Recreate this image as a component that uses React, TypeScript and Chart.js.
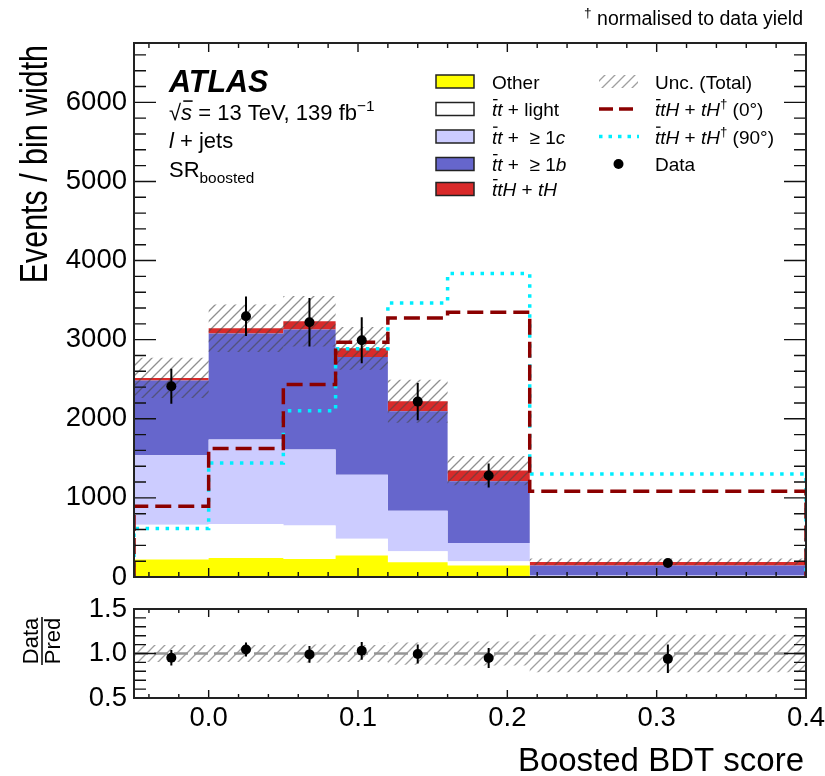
import React, { useEffect, useRef } from 'react';
import { Chart, registerables } from 'chart.js';
Chart.register(...registerables);

const FONT = "'Liberation Sans', Arial, Helvetica, sans-serif";

// ---- data ----
const binEdges = [-0.05, 0.0, 0.05, 0.085, 0.12, 0.16, 0.215, 0.4];
const otherVals = [220, 241, 229, 271, 186, 144, 4];
const ttLightVals = [442, 430, 421, 211, 139, 55, 4];
const tt1cVals = [877, 1066, 961, 809, 514, 232, 10];
const tt1bVals = [944, 1340, 1517, 1491, 1256, 779, 126];
const ttHVals = [34, 68, 105, 109, 126, 135, 47];
const uncTotal = [253, 300, 318, 270, 272, 185, 42];
const signal0Vals = [894, 1623, 2432, 2968, 3275, 3346, 1083];
const signal90Vals = [612, 1442, 2100, 2884, 3465, 3836, 1303];
const dataVals = [2411, 3296, 3220, 2993, 2217, 1282, 178];
const dataErr = [220, 250, 306, 290, 236, 152, 30];
const ratioVals = [0.952, 1.045, 0.99, 1.03, 0.995, 0.95, 0.94];
const ratioErr = [0.087, 0.08, 0.093, 0.1, 0.106, 0.113, 0.16];
const ratioUnc = [0.095, 0.095, 0.1, 0.095, 0.125, 0.135, 0.21];

const mainYTickLabels = [0, 1000, 2000, 3000, 4000, 5000, 6000];
const xTickLabels = [0.0, 0.1, 0.2, 0.3, 0.4];
const ratioYTickLabels = [0.5, 1.0, 1.5];

const X_MIN = -0.05, X_MAX = 0.4, Y_MAX = 6750;

// ---- helpers ----
type Pt = { x: number; y: number };
function stepPts(vals: number[]): Pt[] {
  const pts = vals.map((v, i) => ({ x: binEdges[i], y: v }));
  pts.push({ x: binEdges[binEdges.length - 1], y: vals[vals.length - 1] });
  return pts;
}
function closedStepPts(vals: number[]): Pt[] {
  return [{ x: binEdges[0], y: 0 }, ...stepPts(vals), { x: binEdges[binEdges.length - 1], y: 0 }];
}
function addArr(a: number[], b: number[]) { return a.map((v, i) => v + b[i]); }
function centers(): number[] { return binEdges.slice(0, -1).map((e, i) => (e + binEdges[i + 1]) / 2); }

function makeHatch(color: string, spacing = 10, lw = 1.3): CanvasPattern | string {
  const c = document.createElement('canvas');
  c.width = spacing; c.height = spacing;
  const g = c.getContext('2d');
  if (!g) return color;
  g.strokeStyle = color; g.lineWidth = lw;
  g.beginPath();
  g.moveTo(-1, spacing + 1); g.lineTo(spacing + 1, -1);
  g.moveTo(-spacing / 2 - 1, spacing / 2 + 1); g.lineTo(spacing / 2 + 1, -spacing / 2 - 1);
  g.moveTo(spacing / 2 - 1, spacing * 1.5 + 1); g.lineTo(spacing * 1.5 + 1, spacing / 2 - 1);
  g.stroke();
  const p = g.createPattern(c, 'repeat');
  return p || color;
}

type Seg = { t: string; it?: boolean; b?: boolean; sup?: boolean; sub?: boolean; bar?: boolean };
function drawRich(ctx: CanvasRenderingContext2D, segs: Seg[], x: number, y: number, size: number, align: 'left' | 'right' = 'left') {
  const fontOf = (s: Seg) => {
    const fs = s.sup || s.sub ? size * 0.7 : size;
    return `${s.it ? 'italic ' : ''}${s.b ? 'bold ' : ''}${fs}px ${FONT}`;
  };
  let total = 0;
  for (const s of segs) { ctx.font = fontOf(s); total += ctx.measureText(s.t).width; }
  let cx = align === 'right' ? x - total : x;
  ctx.textAlign = 'left';
  ctx.textBaseline = 'alphabetic';
  for (const s of segs) {
    ctx.font = fontOf(s);
    const dy = s.sup ? -size * 0.4 : s.sub ? size * 0.25 : 0;
    ctx.fillText(s.t, cx, y + dy);
    const w = ctx.measureText(s.t).width;
    if (s.bar) {
      ctx.save();
      ctx.lineWidth = Math.max(1, size * 0.07);
      ctx.strokeStyle = ctx.fillStyle as string;
      ctx.beginPath();
      const yy = y - size * 0.86;
      ctx.moveTo(cx + w * 0.2, yy);
      ctx.lineTo(cx + w * 1.05, yy);
      ctx.stroke();
      ctx.restore();
    }
    cx += w;
  }
}

function frameTicksPlugin(cfg: {
  xMajor: number[]; xMinor: number[]; yMajor: number[]; yMinor: number[];
  xMaj: number; xMin: number; yMaj: number; yMin: number;
}) {
  return {
    id: 'frameTicks',
    afterDraw(chart: any) {
      const { ctx, chartArea: a, scales } = chart;
      const xs = scales.x, ys = scales.y;
      ctx.save();
      ctx.strokeStyle = '#111';
      ctx.lineWidth = 1.4;
      ctx.beginPath();
      const drawX = (v: number, len: number) => {
        const px = xs.getPixelForValue(v);
        ctx.moveTo(px, a.bottom); ctx.lineTo(px, a.bottom - len);
        ctx.moveTo(px, a.top); ctx.lineTo(px, a.top + len);
      };
      const drawY = (v: number, len: number) => {
        const py = ys.getPixelForValue(v);
        ctx.moveTo(a.left, py); ctx.lineTo(a.left + len, py);
        ctx.moveTo(a.right, py); ctx.lineTo(a.right - len, py);
      };
      cfg.xMinor.forEach((v) => drawX(v, cfg.xMin));
      cfg.xMajor.forEach((v) => drawX(v, cfg.xMaj));
      cfg.yMinor.forEach((v) => drawY(v, cfg.yMin));
      cfg.yMajor.forEach((v) => drawY(v, cfg.yMaj));
      ctx.stroke();
      ctx.lineWidth = 2;
      ctx.strokeStyle = '#222';
      ctx.strokeRect(a.left, a.top, a.right - a.left, a.bottom - a.top);
      ctx.restore();
    },
  };
}

function errorBarPlugin(xs: number[], vals: number[], errs: number[]) {
  return {
    id: 'errBars',
    afterDatasetsDraw(chart: any) {
      const { ctx, scales, chartArea: a } = chart;
      ctx.save();
      ctx.beginPath();
      ctx.rect(a.left, a.top, a.right - a.left, a.bottom - a.top);
      ctx.clip();
      ctx.strokeStyle = '#000';
      ctx.lineWidth = 2;
      ctx.beginPath();
      xs.forEach((x, i) => {
        const px = scales.x.getPixelForValue(x);
        ctx.moveTo(px, scales.y.getPixelForValue(vals[i] - errs[i]));
        ctx.lineTo(px, scales.y.getPixelForValue(vals[i] + errs[i]));
      });
      ctx.stroke();
      ctx.fillStyle = '#000';
      xs.forEach((x, i) => {
        ctx.beginPath();
        ctx.arc(scales.x.getPixelForValue(x), scales.y.getPixelForValue(vals[i]), 5, 0, Math.PI * 2);
        ctx.fill();
      });
      ctx.restore();
    },
  };
}

const COL_OTHER = '#ffff00';
const COL_LIGHT = '#ffffff';
const COL_C = '#ccccff';
const COL_B = '#6666cc';
const COL_TTH = '#d92a2a';
const COL_SIG0 = '#8b0000';
const COL_SIG90 = '#00eeff';

function makeRange(start: number, end: number, step: number): number[] {
  const out: number[] = [];
  const n = Math.round((end - start) / step);
  for (let i = 0; i <= n; i++) out.push(+(start + i * step).toFixed(6));
  return out;
}

export default function App() {
  const mainRef = useRef<HTMLCanvasElement>(null);
  const ratioRef = useRef<HTMLCanvasElement>(null);

  useEffect(() => {
    if (!mainRef.current || !ratioRef.current) return;
    const mctx = mainRef.current.getContext('2d')!;
    const hatchMain = makeHatch('rgba(70,70,70,0.6)', 10, 1.3);
    const hatchRatio = makeHatch('rgba(120,120,120,0.7)', 10, 1.3);

    const c1 = otherVals;
    const c2 = addArr(c1, ttLightVals);
    const c3 = addArr(c2, tt1cVals);
    const c4 = addArr(c3, tt1bVals);
    const c5 = addArr(c4, ttHVals);
    const uncUp = c5.map((v, i) => v + uncTotal[i]);
    const uncDn = c5.map((v, i) => v - uncTotal[i]);
    const mids = centers();

    const fillDs = (pts: Pt[], color: any, fill: any, order: number) => ({
      data: pts, backgroundColor: color, borderColor: 'rgba(0,0,0,0)', borderWidth: 0,
      fill, stepped: true, pointRadius: 0, order,
    });

    const xMinorTicks = makeRange(-0.04, 0.4, 0.02);
    const mainYMinor = makeRange(200, 6600, 200);
    const ratioYMinor = makeRange(0.6, 1.4, 0.1);

    const annotationsPlugin = {
      id: 'mainAnnot',
      afterDraw(chart: any) {
        const ctx: CanvasRenderingContext2D = chart.ctx;
        ctx.save();
        ctx.fillStyle = '#000';
        // y axis title
        ctx.save();
        ctx.translate(47, 45);
        ctx.rotate(-Math.PI / 2);
        ctx.scale(0.95, 1.2);
        ctx.font = `32px ${FONT}`;
        ctx.textAlign = 'right';
        ctx.textBaseline = 'alphabetic';
        ctx.fillText('Events / bin width', 0, 0);
        ctx.restore();
        // note
        drawRich(ctx, [{ t: '†', sup: true }, { t: ' normalised to data yield' }], 803, 25, 19.5, 'right');
        // ATLAS block
        drawRich(ctx, [{ t: 'ATLAS', it: true, b: true }], 169, 92, 30.5);
        drawRich(ctx, [{ t: '√' }, { t: 's', it: true, bar: true }, { t: ' = 13 TeV, 139 fb' }, { t: '−1', sup: true }], 169, 120, 22);
        drawRich(ctx, [{ t: 'l', it: true }, { t: ' + jets' }], 169, 148, 22);
        drawRich(ctx, [{ t: 'SR' }, { t: 'boosted', sub: true }], 169, 177, 22);
        // legend left column
        const rows = [81.5, 109, 136.5, 164, 189];
        const boxes = [COL_OTHER, COL_LIGHT, COL_C, COL_B, COL_TTH];
        const tbar: Seg = { t: 't', it: true, bar: true };
        const leftTexts: Seg[][] = [
          [{ t: 'Other' }],
          [tbar, { t: 't', it: true }, { t: ' + light' }],
          [tbar, { t: 't', it: true }, { t: ' +  ≥ 1' }, { t: 'c', it: true }],
          [tbar, { t: 't', it: true }, { t: ' +  ≥ 1' }, { t: 'b', it: true }],
          [tbar, { t: 'tH', it: true }, { t: ' + ' }, { t: 'tH', it: true }],
        ];
        rows.forEach((ry, i) => {
          ctx.fillStyle = boxes[i];
          ctx.fillRect(436, ry - 6.5, 38, 13);
          ctx.strokeStyle = '#222';
          ctx.lineWidth = 1.5;
          ctx.strokeRect(436, ry - 6.5, 38, 13);
          ctx.fillStyle = '#000';
          drawRich(ctx, leftTexts[i], 492, ry + 7, 19);
        });
        // legend right column
        const rrows = [81.5, 109, 136.5, 164];
        ctx.save();
        ctx.fillStyle = hatchRatio as any;
        ctx.fillRect(599, rrows[0] - 6.5, 39, 13);
        ctx.restore();
        ctx.save();
        ctx.lineWidth = 3.5;
        ctx.strokeStyle = COL_SIG0;
        ctx.setLineDash([14, 6]);
        ctx.beginPath(); ctx.moveTo(599, rrows[1]); ctx.lineTo(639, rrows[1]); ctx.stroke();
        ctx.strokeStyle = COL_SIG90;
        ctx.setLineDash([3.5, 6]);
        ctx.beginPath(); ctx.moveTo(599, rrows[2]); ctx.lineTo(639, rrows[2]); ctx.stroke();
        ctx.restore();
        ctx.beginPath(); ctx.arc(618.5, rrows[3], 5, 0, Math.PI * 2); ctx.fillStyle = '#000'; ctx.fill();
        const rightTexts: Seg[][] = [
          [{ t: 'Unc. (Total)' }],
          [tbar, { t: 'tH', it: true }, { t: ' + ' }, { t: 'tH', it: true }, { t: '†', sup: true }, { t: ' (0°)' }],
          [tbar, { t: 'tH', it: true }, { t: ' + ' }, { t: 'tH', it: true }, { t: '†', sup: true }, { t: ' (90°)' }],
          [{ t: 'Data' }],
        ];
        rrows.forEach((ry, i) => drawRich(ctx, rightTexts[i], 655, ry + 7, 19));
        ctx.restore();
      },
    };

    const mainChart = new Chart(mctx, {
      type: 'line',
      data: {
        datasets: [
          fillDs(stepPts(c1), COL_OTHER, 'origin', 10),
          fillDs(stepPts(c2), COL_LIGHT, '-1', 10),
          fillDs(stepPts(c3), COL_C, '-1', 10),
          fillDs(stepPts(c4), COL_B, '-1', 10),
          fillDs(stepPts(c5), COL_TTH, '-1', 10),
          fillDs(stepPts(uncUp), 'rgba(0,0,0,0)', false, 5),
          fillDs(stepPts(uncDn), hatchMain, '-1', 5),
          {
            data: closedStepPts(signal0Vals), borderColor: COL_SIG0, borderWidth: 3.5,
            borderDash: [16, 7], stepped: true, fill: false, pointRadius: 0, order: 2,
          },
          {
            data: closedStepPts(signal90Vals), borderColor: COL_SIG90, borderWidth: 3.5,
            borderDash: [3.5, 6.5], stepped: true, fill: false, pointRadius: 0, order: 3,
          },
          {
            data: mids.map((x, i) => ({ x, y: dataVals[i] })), showLine: false,
            pointRadius: 0, borderWidth: 0, order: 0,
          },
        ] as any,
      },
      options: {
        animation: false,
        responsive: false,
        events: [],
        layout: { padding: { left: 0, right: 19, top: 43, bottom: 23 } },
        plugins: { legend: { display: false }, tooltip: { enabled: false }, filler: { propagate: false } } as any,
        scales: {
          x: { type: 'linear', min: X_MIN, max: X_MAX, display: false },
          y: {
            type: 'linear', min: 0, max: Y_MAX,
            afterBuildTicks: (s: any) => { s.ticks = mainYTickLabels.map((v) => ({ value: v })); },
            afterFit: (s: any) => { s.width = 134; s.paddingTop = 0; s.paddingBottom = 0; },
            grid: { display: false, drawTicks: false },
            border: { display: false },
            ticks: { font: { family: FONT, size: 27.5 }, color: '#000', padding: 7, callback: (v: any) => String(v) },
          },
        },
      } as any,
      plugins: [
        errorBarPlugin(mids, dataVals, dataErr),
        frameTicksPlugin({ xMajor: xTickLabels, xMinor: xMinorTicks, yMajor: mainYTickLabels, yMinor: mainYMinor, xMaj: 9, xMin: 5, yMaj: 22, yMin: 12 }),
        annotationsPlugin,
      ],
    });

    const rctx = ratioRef.current.getContext('2d')!;
    const ratioAnnot = {
      id: 'ratioAnnot',
      afterDraw(chart: any) {
        const ctx: CanvasRenderingContext2D = chart.ctx;
        ctx.save();
        ctx.fillStyle = '#000';
        ctx.font = `33px ${FONT}`;
        ctx.textAlign = 'right';
        ctx.textBaseline = 'alphabetic';
        ctx.fillText('Boosted BDT score', 804, 181);
        ctx.translate(42, 51);
        ctx.rotate(-Math.PI / 2);
        ctx.font = `22px ${FONT}`;
        ctx.textAlign = 'center';
        ctx.fillText('Data', 0, -4);
        ctx.fillText('Pred', 0, 18);
        ctx.strokeStyle = '#000';
        ctx.lineWidth = 1.5;
        ctx.beginPath(); ctx.moveTo(-24, 0); ctx.lineTo(24, 0); ctx.stroke();
        ctx.restore();
      },
    };
    const oneLine = (y: number) => [{ x: X_MIN, y }, { x: X_MAX, y }];
    const ratioChart = new Chart(rctx, {
      type: 'line',
      data: {
        datasets: [
          fillDs(stepPts(ratioUnc.map((u) => 1 + u)), 'rgba(0,0,0,0)', false, 5),
          fillDs(stepPts(ratioUnc.map((u) => 1 - u)), hatchRatio, '-1', 5),
          {
            data: oneLine(1), borderColor: 'rgba(150,150,150,1)', borderWidth: 2.5,
            borderDash: [14, 6], fill: false, pointRadius: 0, order: 3,
          },
          {
            data: mids.map((x, i) => ({ x, y: ratioVals[i] })), showLine: false,
            pointRadius: 0, borderWidth: 0, order: 0,
          },
        ] as any,
      },
      options: {
        animation: false,
        responsive: false,
        events: [],
        layout: { padding: { left: 0, right: 19, top: 19, bottom: 0 } },
        plugins: { legend: { display: false }, tooltip: { enabled: false }, filler: { propagate: false } } as any,
        scales: {
          x: {
            type: 'linear', min: X_MIN, max: X_MAX,
            afterBuildTicks: (s: any) => { s.ticks = xTickLabels.map((v) => ({ value: v })); },
            afterFit: (s: any) => { s.height = 78; s.paddingLeft = 0; s.paddingRight = 0; },
            grid: { display: false, drawTicks: false },
            border: { display: false },
            ticks: { font: { family: FONT, size: 27.5 }, color: '#000', padding: 4, maxRotation: 0, autoSkip: false, callback: (v: any) => Number(v).toFixed(1) },
          },
          y: {
            type: 'linear', min: 0.5, max: 1.5,
            afterBuildTicks: (s: any) => { s.ticks = ratioYTickLabels.map((v) => ({ value: v })); },
            afterFit: (s: any) => { s.width = 134; s.paddingTop = 0; s.paddingBottom = 0; },
            grid: { display: false, drawTicks: false },
            border: { display: false },
            ticks: { font: { family: FONT, size: 27.5 }, color: '#000', padding: 7, callback: (v: any) => Number(v).toFixed(1) },
          },
        },
      } as any,
      plugins: [
        errorBarPlugin(mids, ratioVals, ratioErr),
        frameTicksPlugin({ xMajor: xTickLabels, xMinor: xMinorTicks, yMajor: ratioYTickLabels, yMinor: ratioYMinor, xMaj: 8, xMin: 4, yMaj: 22, yMin: 12 }),
        ratioAnnot,
      ],
    });

    return () => { mainChart.destroy(); ratioChart.destroy(); };
  }, []);

  return (
    <div style={{ position: 'absolute', left: 0, top: 0, width: 825, height: 776, background: '#fff' }}>
      <canvas ref={mainRef} width={825} height={600} style={{ position: 'absolute', left: 0, top: 0 }} />
      <canvas ref={ratioRef} width={825} height={186} style={{ position: 'absolute', left: 0, top: 590 }} />
    </div>
  );
}
